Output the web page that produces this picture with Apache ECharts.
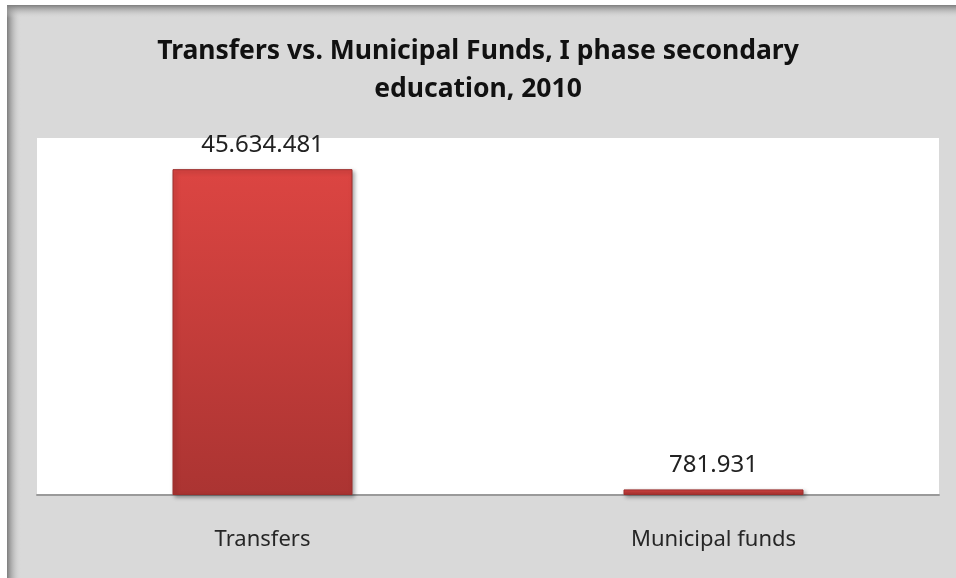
<!DOCTYPE html>
<html>
<head>
<meta charset="utf-8">
<script src="https://cdn.jsdelivr.net/npm/echarts@6/dist/echarts.min.js"></script>
<style>
  html, body { margin: 0; padding: 0; background: #fff; }
  #chart { width: 956px; height: 578px; }
</style>
</head>
<body>
<div id="chart"></div>
<script>
// data
const categories = ['Transfers', 'Municipal funds']
const values = [45634481, 781931]
const titleLines = ['Transfers vs. Municipal Funds, I phase secondary', 'education, 2010']

// 45634481 -> 45.634.481
function fmt (v) {
  return String(v).replace(/\B(?=(\d{3})+(?!\d))/g, '.')
}

const chart = echarts.init(document.getElementById('chart'))
const barColor = new echarts.graphic.LinearGradient(0, 0, 0, 1, [
  { offset: 0, color: '#dc4542' },
  { offset: 1, color: '#ab3432' }
])

const option = {
  backgroundColor: '#d9d9d9',
  animation: false,
  title: {
    text: titleLines.join('\n'),
    left: 'center',
    top: 27,
    textStyle: {
      fontFamily: 'Noto Sans',
      fontWeight: 'bold',
      fontSize: 26.5,
      lineHeight: 38,
      color: '#111'
    }
  },
  graphic: [
    // the frame shadow on the left and top
    { type: 'rect', shape: { x: 0, y: 0, width: 956, height: 5 }, style: { fill: '#fff' }, z: 100 },
    { type: 'rect', shape: { x: 0, y: 0, width: 7, height: 578 }, style: { fill: '#fff' }, z: 100 },
    {
      type: 'rect',
      shape: { x: 7, y: 5, width: 14, height: 573 },
      style: {
        fill: new echarts.graphic.LinearGradient(0, 0, 1, 0, [
          { offset: 0, color: '#7d7d7d' },
          { offset: 1, color: 'rgba(217,217,217,0)' }
        ])
      },
      z: 99
    },
    {
      type: 'rect',
      shape: { x: 7, y: 5, width: 949, height: 13 },
      style: {
        fill: new echarts.graphic.LinearGradient(0, 0, 0, 1, [
          { offset: 0, color: '#7d7d7d' },
          { offset: 1, color: 'rgba(217,217,217,0)' }
        ])
      },
      z: 99
    }
  ],
  grid: {
    left: 37,
    right: 17,
    top: 138,
    bottom: 83,
    show: true,
    backgroundColor: '#fff',
    borderWidth: 0
  },
  xAxis: {
    type: 'category',
    data: categories,
    axisLine: { lineStyle: { color: '#9a9a9a', width: 2 } },
    axisTick: { show: false },
    axisLabel: {
      margin: 34,
      fontFamily: 'Noto Sans',
      fontSize: 22,
      color: '#262626'
    }
  },
  yAxis: {
    type: 'value',
    min: 0,
    max: 50000000,
    show: false,
    splitLine: { show: false }
  },
  series: [{
    type: 'bar',
    data: values,
    barWidth: 180,
    itemStyle: {
      color: barColor,
      borderColor: '#9c2e2c',
      borderWidth: 1,
      shadowColor: 'rgba(0,0,0,0.35)',
      shadowBlur: 4,
      shadowOffsetX: 2,
      shadowOffsetY: 2
    },
    label: {
      show: true,
      position: 'top',
      distance: 12,
      fontFamily: 'Noto Sans',
      fontSize: 24,
      color: '#222',
      formatter: p => fmt(p.value)
    }
  }]
}
chart.setOption(option)
</script>
</body>
</html>
